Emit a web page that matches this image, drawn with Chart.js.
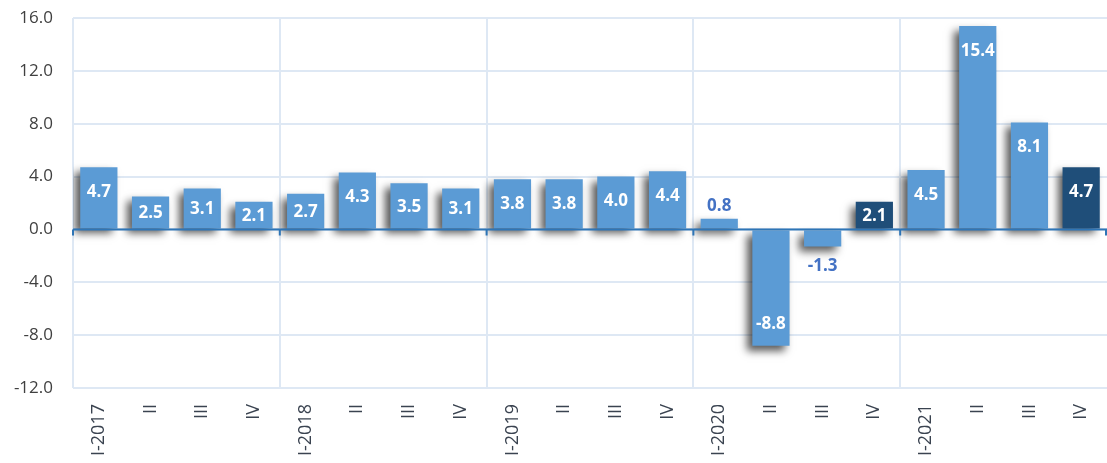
<!DOCTYPE html>
<html>
<head>
<meta charset="utf-8">
<script src="https://cdn.jsdelivr.net/npm/chart.js@4"></script>
<style>
  html, body { margin: 0; padding: 0; background: #fff; overflow: hidden; }
  #wrap { width: 1107px; height: 463px; position: relative; }
</style>
</head>
<body>
<div id="wrap"><canvas id="gdpChart"></canvas></div>
<script>
// quarterly values, 2017 - 2021
const quarters = ['I-2017', 'II', 'III', 'IV', 'I-2018', 'II', 'III', 'IV',
  'I-2019', 'II', 'III', 'IV', 'I-2020', 'II', 'III', 'IV',
  'I-2021', 'II', 'III', 'IV'];
const growth = [4.7, 2.5, 3.1, 2.1, 2.7, 4.3, 3.5, 3.1,
  3.8, 3.8, 4.0, 4.4, 0.8, -8.8, -1.3, 2.1,
  4.5, 15.4, 8.1, 4.7];
const highlighted = [15, 19]; // darker bars
const yTicks = [-12, -8, -4, 0, 4, 8, 12, 16];

const LIGHT = '#5B9BD5';
const DARK = '#1F4E79';
const GRID = '#DEE8F4';
const FONT = '"Open Sans", "Segoe UI", sans-serif';

// drop shadow behind the bars
const barShadow = {
  id: 'barShadow',
  beforeDatasetsDraw(chart) {
    const ctx = chart.ctx;
    ctx.save();
    ctx.shadowColor = 'rgba(0,0,0,0.65)';
    ctx.shadowBlur = 8;
    ctx.shadowOffsetX = -5;
    ctx.shadowOffsetY = 5;
  },
  afterDatasetsDraw(chart) {
    chart.ctx.restore();
  }
};

// zero line, small ticks and value labels
const valueLabels = {
  id: 'valueLabels',
  afterDatasetsDraw(chart) {
    const ctx = chart.ctx;
    const area = chart.chartArea;
    const yScale = chart.scales.y;
    const zeroY = yScale.getPixelForValue(0);

    ctx.save();
    ctx.strokeStyle = '#2E75B6';
    ctx.lineWidth = 2;
    ctx.beginPath();
    ctx.moveTo(area.left, zeroY);
    ctx.lineTo(area.right, zeroY);
    const catW = (area.right - area.left) / quarters.length;
    for (let i = 0; i <= quarters.length; i += 4) {
      const x = Math.min(area.left + i * catW, area.right - 1);
      ctx.moveTo(x, zeroY);
      ctx.lineTo(x, zeroY + 6);
    }
    ctx.stroke();

    ctx.font = 'bold 17px ' + FONT;
    ctx.textAlign = 'center';
    ctx.textBaseline = 'middle';
    const meta = chart.getDatasetMeta(0);
    meta.data.forEach((bar, i) => {
      const v = growth[i];
      const txt = v.toFixed(1);
      const h = Math.abs(bar.base - bar.y);
      let y;
      if (h < 30) {
        ctx.fillStyle = '#4472C4';
        y = v >= 0 ? bar.y - 13 : bar.y + 20;
        if (v >= 2) { ctx.fillStyle = '#fff'; y = (bar.y + bar.base) / 2 + 1; }
      } else {
        ctx.fillStyle = '#fff';
        const mid = (bar.y + bar.base) / 2 + 1;
        y = v >= 0 ? Math.min(mid, bar.y + 25) : Math.max(mid, bar.y - 22);
      }
      ctx.fillText(txt, bar.x, y);
    });
    ctx.restore();
  }
};

new Chart(document.getElementById('gdpChart').getContext('2d'), {
  type: 'bar',
  data: {
    labels: quarters,
    datasets: [{
      data: growth,
      backgroundColor: growth.map((v, i) => highlighted.includes(i) ? DARK : LIGHT),
      borderWidth: 0,
      categoryPercentage: 1,
      barPercentage: 0.72
    }]
  },
  options: {
    responsive: true,
    maintainAspectRatio: false,
    animation: false,
    layout: { padding: { top: 18, right: -2, left: 0, bottom: 0 } },
    plugins: {
      legend: { display: false },
      tooltip: { enabled: false }
    },
    scales: {
      x: {
        offset: true,
        border: { display: false },
        grid: {
          offset: true,
          drawTicks: false,
          lineWidth: 2,
          color: (c) => c.index % 4 === 0 ? GRID : 'rgba(0,0,0,0)'
        },
        ticks: {
          autoSkip: false,
          minRotation: 90,
          maxRotation: 90,
          padding: 16,
          color: '#3A4350',
          font: { family: FONT, size: 18 }
        },
        afterFit(scale) {
          scale.height = 75;
          scale.paddingLeft = 0;
          scale.paddingRight = 0;
        }
      },
      y: {
        min: -12,
        max: 16,
        border: { display: false },
        grid: {
          drawTicks: false,
          lineWidth: 2,
          color: GRID
        },
        afterBuildTicks(scale) {
          scale.ticks = yTicks.map(v => ({ value: v }));
        },
        ticks: {
          padding: 20,
          color: '#404040',
          font: { family: FONT, size: 17 },
          callback: (v) => Number(v).toFixed(1)
        },
        afterFit(scale) {
          scale.width = 73;
          scale.paddingTop = 0;
          scale.paddingBottom = 0;
        }
      }
    }
  },
  plugins: [barShadow, valueLabels]
});
</script>
</body>
</html>
